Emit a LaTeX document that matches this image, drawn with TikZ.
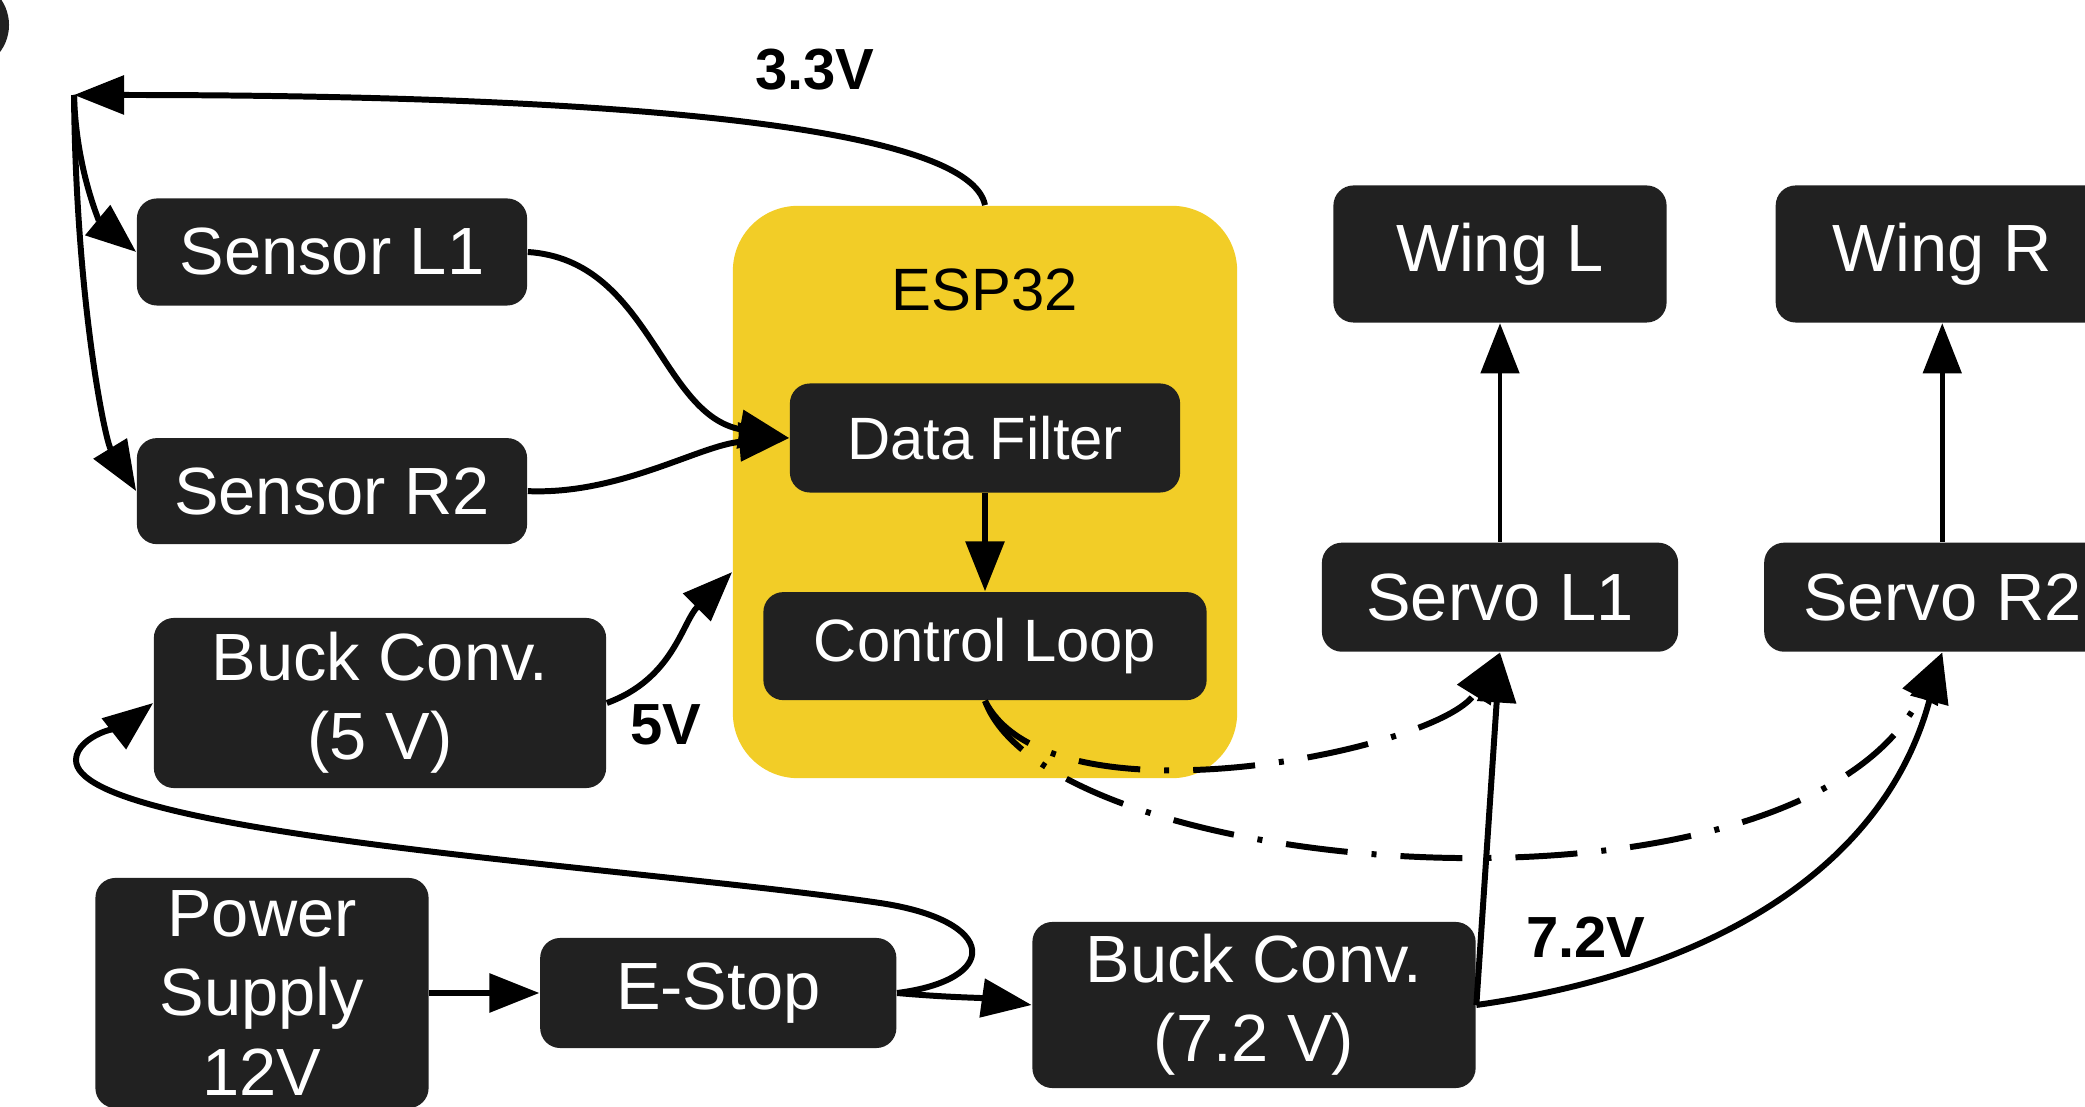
\documentclass[tikz,border=0pt]{standalone}
\usepackage{fontspec}
\setmainfont{Liberation Sans}
\usetikzlibrary{positioning, arrows.meta}

\definecolor{boxgray}{HTML}{212121}
\definecolor{espyellow}{HTML}{F2CD27}

\newcommand{\boxfont}{\fontsize{19}{22.5}\selectfont}
\newcommand{\espfont}{\fontsize{17}{21}\selectfont}
\newcommand{\voltfont}{\bfseries\fontsize{16.5}{20}\selectfont}

\begin{document}
\begin{tikzpicture}[x=0.01cm, y=0.01cm, on grid,
    >={Triangle[length=0.5cm, width=0.38cm]},
    blk/.style={fill=boxgray, text=white, rounded corners=0.2cm, inner sep=0pt, align=center, font=\boxfont},
    espbox/.style={fill=espyellow, rounded corners=0.65cm, minimum width=5.04cm, minimum height=5.72cm},
    volt/.style={font=\voltfont, inner sep=0pt},
    wire/.style={->, line width=1.7pt},
    ctl/.style={->, line width=1.7pt, dash pattern=on 0.62cm off 0.24cm on 0.05cm off 0.24cm}]
    \useasboundingbox (0,0) rectangle (2085,-1107);
    \fill[boxgray] (-36,-25) circle (0.45cm);

    % ESP32 board
    \node[espbox] (esp) at (985,-492) {};
    \node[font=\espfont] (esptitle) at (985,-290) {ESP32};
    \node[blk, font=\espfont, minimum width=3.9cm, minimum height=1.09cm] (filter) at (985,-438) {Data Filter};
    \node[blk, font=\espfont, minimum width=4.43cm, minimum height=1.08cm] (ctrl) [below=2.08cm of filter] {Control Loop};

    % sensors and power
    \node[blk, minimum width=3.9cm, minimum height=1.07cm] (sensorL) at (332,-252) {Sensor L1};
    \node[blk, minimum width=3.9cm, minimum height=1.06cm] (sensorR) [below=2.39cm of sensorL] {Sensor R2};
    \node[blk, minimum width=4.52cm, minimum height=1.7cm] (buck5) at (380,-703) {Buck Conv.\\(5 V)};
    \node[blk, minimum width=3.33cm, minimum height=2.3cm] (psu) at (262,-993) {Power\\Supply\\12V};
    \node[blk, minimum width=3.56cm, minimum height=1.1cm] (estop) [right=4.56cm of psu] {E-Stop};
    \node[blk, minimum width=4.43cm, minimum height=1.66cm] (buck7) at (1254,-1005) {Buck Conv.\\(7.2 V)};

    % actuators
    \node[blk, minimum width=3.33cm, minimum height=1.37cm] (wingL) at (1500,-254) {Wing L};
    \node[blk, minimum width=3.33cm, minimum height=1.37cm] (wingR) [right=4.42cm of wingL] {Wing R};
    \node[blk, minimum width=3.56cm, minimum height=1.09cm] (servoL) [below=3.43cm of wingL] {Servo L1};
    \node[blk, minimum width=3.56cm, minimum height=1.09cm] (servoR) [below=3.43cm of wingR] {Servo R2};

    \coordinate (hub) at (74,-95);
    \node[volt] (v33) at (815,-70) {3.3V};
    \node[volt] (v5) at (666,-725) {5V};
    \node[volt] (v72) at (1586,-937) {7.2V};

    % 3.3V rail
    \draw[wire] (esp.north) .. controls (970,-130) and (650,-95) .. (hub);
    \draw[wire] (hub) .. controls (76,-170) and (100,-222) .. (sensorL.west);
    \draw[wire] (hub) .. controls (76,-300) and (105,-440) .. (sensorR.west);

    % signals
    \draw[wire] (sensorL.east) .. controls (650,-260) and (660,-415) .. (filter.west);
    \draw[wire] (sensorR.east) .. controls (620,-495) and (700,-445) .. (filter.west);
    \draw[wire] (filter) -- (ctrl);
    \draw[ctl] (ctrl.south) .. controls (1050,-830) and (1440,-750) .. (servoL.south);
    \draw[ctl] (ctrl.south) .. controls (1051,-881) and (1800,-940) .. (servoR.south);
    \draw[->, line width=1.3pt] (servoL) -- (wingL);
    \draw[->, line width=1.3pt] (servoR) -- (wingR);

    % power
    \draw[wire] (psu.east) -- (estop.west);
    \draw[wire] (estop.east) to[out=-5, in=172] (buck7.west);
    \draw[wire] (estop.east) .. controls (1000,-980) and (1000,-921) .. (880,-903)
        .. controls (630,-866) and (76,-835) .. (76,-760)
        .. controls (76,-735) and (129,-722) .. (buck5.west);
    \draw[wire] (buck5.east) to[out=20, in=-135] ([yshift=-0.8cm]esp.west);
    \draw[wire] (buck7.east) -- (servoL.south);
    \draw[wire] (buck7.east) to[out=8, in=-105] (servoR.south);
\end{tikzpicture}
\end{document}
